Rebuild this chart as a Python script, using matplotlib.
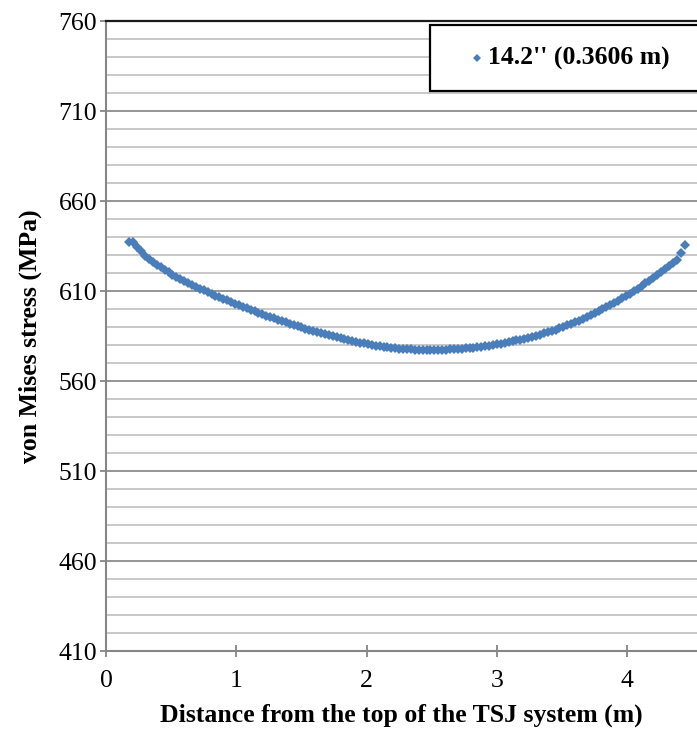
import matplotlib
matplotlib.use("Agg")
import matplotlib.pyplot as plt
from matplotlib.patches import Rectangle
from matplotlib.lines import Line2D

# ---------------- data ----------------
distance_m = [
    0.18, 0.21, 0.24, 0.27, 0.30, 0.33, 0.36, 0.39, 0.42, 0.45, 0.48, 0.51, 0.54, 0.57, 0.60,
    0.63, 0.66, 0.69, 0.72, 0.75, 0.78, 0.81, 0.84, 0.87, 0.90, 0.93, 0.96, 0.99, 1.02, 1.05,
    1.08, 1.11, 1.14, 1.17, 1.20, 1.23, 1.26, 1.29, 1.32, 1.35, 1.38, 1.41, 1.44, 1.47, 1.50,
    1.53, 1.56, 1.59, 1.62, 1.65, 1.68, 1.71, 1.74, 1.77, 1.80, 1.83, 1.86, 1.89, 1.92, 1.95,
    1.98, 2.01, 2.04, 2.07, 2.10, 2.13, 2.16, 2.19, 2.22, 2.25, 2.28, 2.31, 2.34, 2.37, 2.40,
    2.43, 2.46, 2.49, 2.52, 2.55, 2.58, 2.61, 2.64, 2.67, 2.70, 2.73, 2.76, 2.79, 2.82, 2.85,
    2.88, 2.91, 2.94, 2.97, 3.00, 3.03, 3.06, 3.09, 3.12, 3.15, 3.18, 3.21, 3.24, 3.27, 3.30,
    3.33, 3.36, 3.39, 3.42, 3.45, 3.48, 3.51, 3.54, 3.57, 3.60, 3.63, 3.66, 3.69, 3.72, 3.75,
    3.78, 3.81, 3.84, 3.87, 3.90, 3.93, 3.96, 3.99, 4.02, 4.05, 4.08, 4.11, 4.14, 4.17, 4.20,
    4.23, 4.26, 4.29, 4.32, 4.35, 4.38, 4.41, 4.44,
]
von_mises_mpa = [
    637.2, 637.4, 634.6, 632.0, 629.5, 627.7, 626.1, 624.6, 623.15, 621.75, 620.4, 619.1, 617.85, 616.65, 615.5,
    614.4, 613.35, 612.35, 611.35, 610.35, 609.37, 608.41, 607.47, 606.55, 605.64, 604.74, 603.85, 602.97, 602.10, 601.24,
    600.39, 599.55, 598.72, 597.90, 597.10, 596.31, 595.53, 594.77, 594.02, 593.28, 592.55, 591.84, 591.14, 590.46, 589.79,
    589.13, 588.48, 587.85, 587.23, 586.63, 586.03, 585.45, 584.89, 584.34, 583.80, 583.27, 582.76, 582.26, 581.77, 581.30,
    580.86, 580.45, 580.06, 579.70, 579.36, 579.05, 578.76, 578.50, 578.26, 578.05, 577.86, 577.70, 577.56, 577.45, 577.36,
    577.30, 577.26, 577.25, 577.26, 577.29, 577.35, 577.42, 577.52, 577.64, 577.78, 577.95, 578.13, 578.34, 578.57, 578.82,
    579.09, 579.38, 579.70, 580.04, 580.40, 580.78, 581.18, 581.61, 582.05, 582.52, 583.01, 583.52, 584.06, 584.61, 585.19,
    585.79, 586.41, 587.05, 587.77, 588.51, 589.29, 590.09, 590.92, 591.78, 592.68, 593.60, 594.55, 595.54, 596.55, 597.60,
    598.68, 599.80, 600.94, 602.12, 603.33, 604.58, 605.86, 607.18, 608.52, 609.90, 611.30, 612.74, 614.21, 615.72, 617.26,
    618.83, 620.44, 622.09, 623.78, 625.50, 627.26, 631.3, 635.6,
]
series_label = "14.2'' (0.3606 m)"
x_ticks = [0, 1, 2, 3, 4]
y_major = [410, 460, 510, 560, 610, 660, 710, 760]
y_minor = [v for v in range(410, 761, 10)]
x_label = "Distance from the top of the TSJ system (m)"
y_label = "von Mises stress (MPa)"

# ---------------- style ----------------
W, H = 697, 738
fig = plt.figure(figsize=(W / 100, H / 100), dpi=100)
serif = ["Liberation Serif", "DejaVu Serif"]
blue = "#4A7EBB"
fs = 18.5

ax_left, ax_right, ax_top, ax_bottom = 106, 697, 21, 651
ax = fig.add_axes([ax_left / W, 1 - ax_bottom / H, (ax_right - ax_left) / W, (ax_bottom - ax_top) / H])
ax.set_xlim(0, (ax_right - ax_left) / 130.3)
ax.set_ylim(410, 760)

for v in y_minor:
    if v in y_major:
        continue
    ax.axhline(v, color="#BFBFBF", lw=1.2, zorder=1)
for v in y_major[1:-1]:
    ax.axhline(v, color="#8C8C8C", lw=1.3, zorder=1)

ax.plot(distance_m, von_mises_mpa, linestyle="none", marker="D", markersize=5.0,
        color=blue, markeredgewidth=0, zorder=3, clip_on=False)

ax.spines["right"].set_visible(False)
ax.spines["top"].set_color("#1a1a1a")
ax.spines["top"].set_linewidth(1.6)
ax.spines["left"].set_color("#868686")
ax.spines["left"].set_linewidth(1.5)
ax.spines["bottom"].set_color("#868686")
ax.spines["bottom"].set_linewidth(1.5)

ax.set_xticks(x_ticks)
ax.set_yticks(y_major)
ax.tick_params(axis="y", direction="out", length=4.3, width=1.3, color="#868686",
               labelsize=fs, pad=2)
ax.tick_params(axis="x", direction="inout", length=8, width=1.3, color="#868686",
               labelsize=fs, pad=10)
for lab in ax.get_xticklabels() + ax.get_yticklabels():
    lab.set_fontfamily(serif)

ax.set_xlabel(x_label, fontsize=fs, fontweight="bold", family=serif, labelpad=8)
ax.set_ylabel(y_label, fontsize=fs, fontweight="bold", family=serif, labelpad=12)

# legend box (extends beyond the right edge, as in the reference)
fig.patches.append(Rectangle((430 / W, 1 - 91 / H), 400 / W, 66 / H, transform=fig.transFigure,
                             facecolor="white", edgecolor="black", lw=1.6, zorder=5, clip_on=False))
fig.lines.append(Line2D([477 / W], [1 - 58 / H], transform=fig.transFigure, marker="D",
                        markersize=3.8, color=blue, markeredgewidth=0, linestyle="none", zorder=6))
fig.text(488 / W, 1 - 58 / H, series_label, fontsize=fs, fontweight="bold", family=serif,
         va="center", ha="left", zorder=7)

fig.savefig("out.png", dpi=100)
